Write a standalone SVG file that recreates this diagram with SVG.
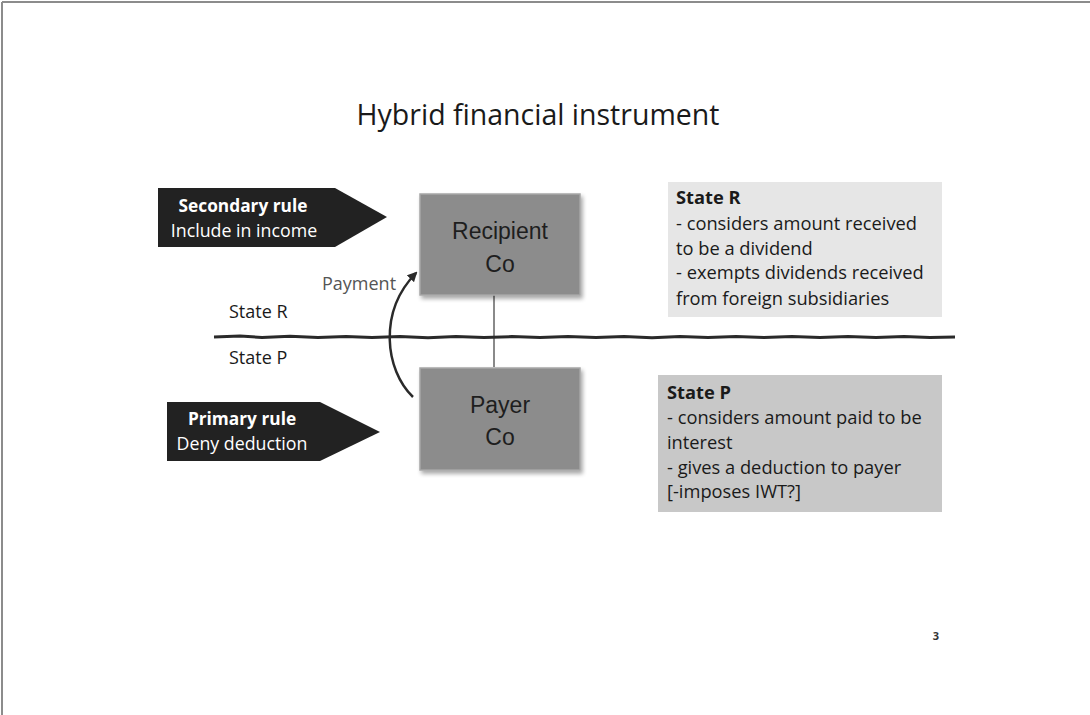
<svg xmlns="http://www.w3.org/2000/svg" width="1090" height="715" viewBox="0 0 1090 715">
  <defs>
    <style>
      .sans { font-family: "Open Sans", "Noto Sans", sans-serif; }
      .title { font-size: 28.5px; fill: #1a1a1a; }
      .tag { font-size: 17.8px; fill: #ffffff; text-anchor: middle; }
      .tag-b { font-weight: bold; font-size: 17.3px; }
      .state { font-size: 18px; fill: #1a1a1a; }
      .note { font-size: 18.3px; fill: #1a1a1a; }
      .note-b { font-weight: bold; }
      .co { font-family: "Liberation Sans", Arial, sans-serif; font-size: 23px; fill: #1e1e1e; text-anchor: middle; }
      .co-box { fill: #8c8c8c; stroke: #a6a6a6; stroke-width: 1.5; }
      .pointer { fill: #222222; }
      .link { stroke: #8a8a8a; stroke-width: 2; fill: none; }
      .flow { stroke: #2a2a2a; stroke-width: 2.5; fill: none; }
      .border { stroke: #8c8c8c; stroke-width: 2; }
    </style>
    <filter id="shadow" x="-10%" y="-10%" width="125%" height="130%">
      <feGaussianBlur in="SourceAlpha" stdDeviation="2"/>
      <feOffset dx="2" dy="3"/>
      <feComponentTransfer><feFuncA type="linear" slope="0.35"/></feComponentTransfer>
      <feMerge><feMergeNode/><feMergeNode in="SourceGraphic"/></feMerge>
    </filter>
    <marker id="arrowhead" viewBox="0 0 10 10" refX="8" refY="5" markerWidth="4" markerHeight="4" orient="auto">
      <path d="M0,0 L10,5 L0,10 Z" fill="#2a2a2a"/>
    </marker>
  </defs>

  <rect x="0" y="0" width="1090" height="715" fill="#ffffff"/>
  <!-- page frame (top and left edges) -->
  <line class="border" x1="2" y1="2" x2="1090" y2="2"/>
  <line class="border" x1="2" y1="2" x2="2" y2="715"/>

  <text class="sans title" x="538" y="125" text-anchor="middle">Hybrid financial instrument</text>

  <!-- connectors -->
  <g id="connectors">
    <line class="link" x1="494" y1="295" x2="494" y2="367"/>
    <!-- rough border line between the two states -->
    <polyline points="214,337 240,336 262,337.5 290,336.3 318,337.6 346,336.4 372,337.5 400,336.5 428,337.7 456,336.4 484,337.5 512,336.6 540,337.6 568,336.4 596,337.5 624,336.5 652,337.7 680,336.4 708,337.5 736,336.6 764,337.6 792,336.4 820,337.5 848,336.5 876,337.6 904,336.5 930,337.4 955,337" stroke="#2a2a2a" stroke-width="3" fill="none" stroke-linejoin="round"/>
    <path class="flow" d="M413,397 C385,370 378,312 416,273" marker-end="url(#arrowhead)"/>
    <text class="sans state" x="322" y="290" style="fill:#555555">Payment</text>
  </g>

  <text class="sans state" x="229" y="318">State R</text>
  <text class="sans state" x="229" y="364">State P</text>

  <g id="secondary-rule">
    <polygon class="pointer" points="158,188 335,188 387,217 335,247 158,247"/>
    <text class="sans tag tag-b" x="243" y="212">Secondary rule</text>
    <text class="sans tag" x="244" y="237">Include in income</text>
  </g>

  <g id="primary-rule">
    <polygon class="pointer" points="167,402 320,402 380,432 320,461 167,461"/>
    <text class="sans tag tag-b" x="242" y="425">Primary rule</text>
    <text class="sans tag" x="242" y="450">Deny deduction</text>
  </g>

  <g id="recipient-co">
    <rect class="co-box" x="420" y="194" width="160" height="101" filter="url(#shadow)"/>
    <text class="co" x="500" y="239">Recipient</text>
    <text class="co" x="500" y="272">Co</text>
  </g>

  <g id="payer-co">
    <rect class="co-box" x="420" y="368" width="160" height="102" filter="url(#shadow)"/>
    <text class="co" x="500" y="413">Payer</text>
    <text class="co" x="500" y="445">Co</text>
  </g>

  <g id="state-r-note">
    <rect x="668" y="182" width="274" height="135" fill="#e6e6e6"/>
    <text class="sans note note-b" x="676" y="204">State R</text>
    <text class="sans note" x="676" y="230">- considers amount received</text>
    <text class="sans note" x="676" y="255">to be a dividend</text>
    <text class="sans note" x="676" y="279">- exempts dividends received</text>
    <text class="sans note" x="676" y="305">from foreign subsidiaries</text>
  </g>

  <g id="state-p-note">
    <rect x="658" y="375" width="284" height="137" fill="#c8c8c8"/>
    <text class="sans note note-b" x="667" y="399">State P</text>
    <text class="sans note" x="667" y="424">- considers amount paid to be</text>
    <text class="sans note" x="667" y="449">interest</text>
    <text class="sans note" x="667" y="474">- gives a deduction to payer</text>
    <text class="sans note" x="667" y="498">[-imposes IWT?]</text>
  </g>

  <text class="sans" x="936" y="640" font-size="11" font-weight="bold" fill="#333333" text-anchor="middle">3</text>
</svg>
